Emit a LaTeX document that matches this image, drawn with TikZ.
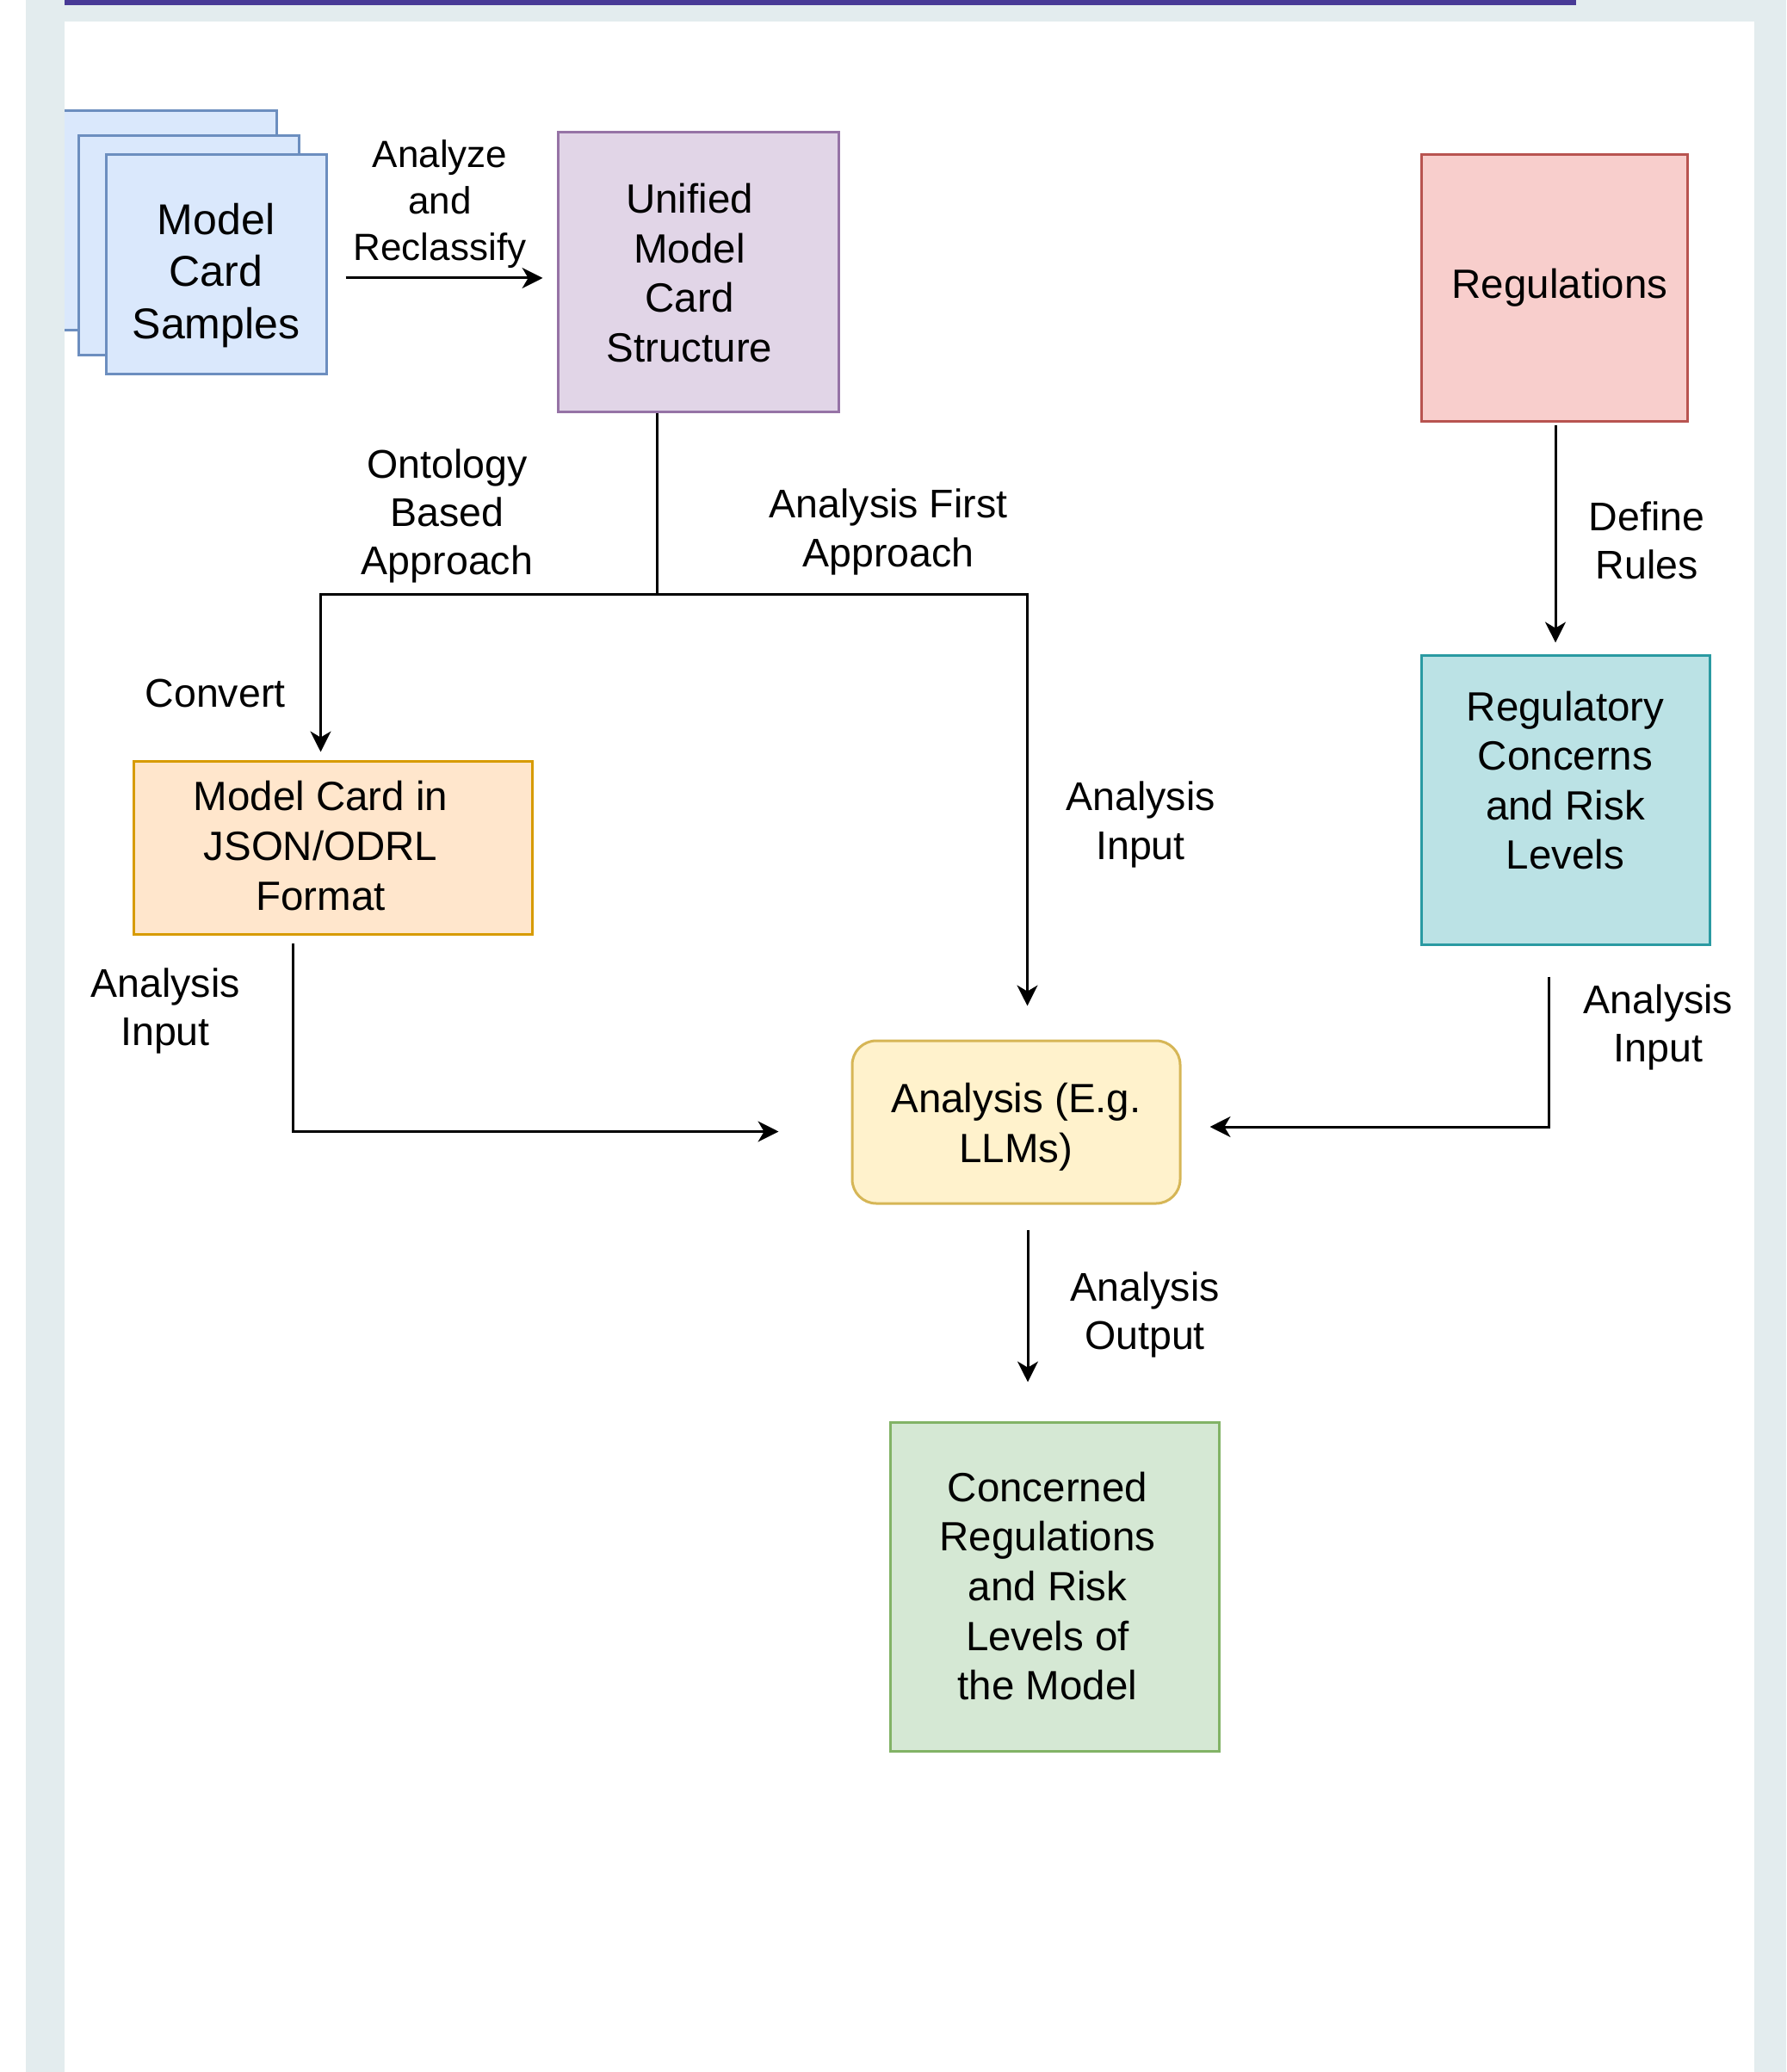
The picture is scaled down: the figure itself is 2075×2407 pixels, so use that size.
\documentclass[tikz,border=0pt]{standalone}
\usepackage{fontspec}
\setmainfont{Liberation Sans}
\usetikzlibrary{arrows.meta,calc}
\newdimen\pxu \pxu=0.01cm
\definecolor{bggray}{HTML}{E3ECEE}
\definecolor{barcol}{HTML}{483A96}
\definecolor{cardfill}{HTML}{DAE8FC}
\definecolor{cardline}{HTML}{6C8EBF}
\definecolor{purfill}{HTML}{E1D5E7}
\definecolor{purline}{HTML}{9673A6}
\definecolor{redfill}{HTML}{F8CECC}
\definecolor{redline}{HTML}{B85450}
\definecolor{orfill}{HTML}{FFE6CC}
\definecolor{orline}{HTML}{D79B00}
\definecolor{yelfill}{HTML}{FFF2CC}
\definecolor{yelline}{HTML}{D6B656}
\definecolor{grfill}{HTML}{D5E8D4}
\definecolor{grline}{HTML}{82B366}
\definecolor{tealfill}{HTML}{BBE2E5}
\definecolor{tealline}{HTML}{2A9AA2}
\newcommand\nodefont{\fontsize{13.5pt}{16.36pt}\selectfont}
\newcommand\samplefont{\fontsize{14.23pt}{17.07pt}\selectfont}
\newcommand\lblfont{\fontsize{13.23pt}{15.93pt}\selectfont}
\newcommand\smalllbl{\fontsize{12.52pt}{15.22pt}\selectfont}
\newcommand\padR[1]{\rule{#1\pxu}{0pt}}
\newcommand\hiA[1]{\rule{0pt}{#1\pxu}}
\newcommand\loA[1]{\rule[-#1\pxu]{0pt}{#1\pxu}}
\begin{document}
\begin{tikzpicture}[x=0.01cm, y=-0.01cm,
  box/.style={draw, line width=3\pxu, inner sep=0pt, align=center, font=\nodefont},
  lbl/.style={inner sep=0pt, align=center, font=\lblfont},
  conn/.style={line width=3\pxu, black},
  arr/.style={conn, -{Stealth[length=6.8pt, width=6.8pt, inset=2pt]}},
  card/.style={box, fill=cardfill, draw=cardline, minimum width=256\pxu, minimum height=255\pxu}
]
\useasboundingbox (0,0) rectangle (2075,2407);
\fill[white] (0,0) rectangle (2075,2407);
\fill[bggray] (30,0) rectangle (2075,2407);
\fill[white] (75,25) rectangle (2038,2407);
\fill[barcol] (75,0) rectangle (1831,6);

% stacked cards
\begin{scope}
  \clip (75,25) rectangle (2038,2407);
  \node[card] (card3) at (193,256.5) {};
\end{scope}
\node[card] (card2) at (219,285.5) {};
\node[card, font=\samplefont] (samples) at (251,307.5) {\hiA{69}Model\\Card\\Samples\strut};

% boxes
\node[box, fill=purfill, draw=purline, minimum width=326\pxu, minimum height=325\pxu] (unified) at (811,316.5)
  {\hiA{52.25}Unified\padR{20}\\Model\padR{20}\\Card\padR{20}\\Structure\padR{20}\strut};
\node[box, fill=redfill, draw=redline, minimum width=309\pxu, minimum height=310\pxu] (regs) at (1805.5,335)
  {\rule{13\pxu}{0pt}\strut Regulations\strut};
\node[box, fill=tealfill, draw=tealline, minimum width=335\pxu, minimum height=336\pxu] (regtory) at (1818.5,929)
  {\strut Regulatory\\Concerns\\and Risk\\Levels\loA{51.25}};
\node[box, fill=orfill, draw=orline, minimum width=463\pxu, minimum height=201\pxu] (json) at (386.5,984.5)
  {\hiA{47.25}Model Card in\padR{28}\\JSON/ODRL\padR{28}\\Format\padR{28}\strut};
\node[box, fill=yelfill, draw=yelline, rounded corners=28\pxu, minimum width=381\pxu, minimum height=189\pxu] (analysis) at (1180.5,1303.5)
  {\hiA{53.25}Analysis (E.g.\\LLMs)\strut};
\node[box, fill=grfill, draw=grline, minimum width=382\pxu, minimum height=382\pxu] (concerned) at (1225,1843)
  {\hiA{50.25}Concerned\padR{16}\\Regulations\padR{16}\\and Risk\padR{16}\\Levels of\padR{16}\\the Model\padR{16}\strut};

% connectors
\coordinate (s1) at ([yshift=-15.5\pxu]samples.east);
\draw[arr, shorten <=21\pxu, shorten >=16\pxu] (s1) -- (s1 -| unified.west);

\coordinate (junc) at (763,691);
\draw[conn] (unified.south -| junc) -- (junc);
\coordinate (jt) at ([xshift=-14\pxu]json.north);
\coordinate (at) at ([xshift=13\pxu]analysis.north);
\draw[arr, shorten >=9\pxu] (junc) -| (jt);
\draw[arr, shorten >=39\pxu] (junc) -| (at);

\coordinate (j1) at ([xshift=-46.5\pxu]json.south);
\coordinate (a1) at ([yshift=-11\pxu]analysis.west);
\draw[arr, shorten <=9\pxu, shorten >=84\pxu] (j1) |- (a1);

\coordinate (r1) at ([xshift=-19.5\pxu]regtory.south);
\coordinate (a2) at ([yshift=-5.5\pxu]analysis.east);
\draw[arr, shorten <=36\pxu, shorten >=33\pxu] (r1) |- (a2);

\coordinate (g1) at ([xshift=1.5\pxu]regs.south);
\draw[arr, shorten <=3\pxu, shorten >=13\pxu] (g1) -- (g1 |- regtory.north);

\coordinate (a3) at ([xshift=13.5\pxu]analysis.south);
\draw[arr, shorten <=29\pxu, shorten >=45\pxu] (a3) -- (a3 |- concerned.north);

% labels
\node[lbl, font=\smalllbl] (lAnalyze) at (511,237.8) {\strut Analyze\\and\\Reclassify\strut};
\node[lbl] (lOnto) at (519.5,600.3) {\strut Ontology\\Based\\Approach\strut};
\node[lbl] (lFirst) at (1032,618.8) {\strut Analysis First\\Approach\strut};
\node[lbl] (lConvert) at (250,809.8) {\strut Convert\strut};
\node[lbl] (lInL) at (192,1175.3) {\strut Analysis\\Input\strut};
\node[lbl] (lInM) at (1325,958.8) {\strut Analysis\\Input\strut};
\node[lbl] (lInR) at (1926.5,1194.3) {\strut Analysis\\Input\strut};
\node[lbl] (lDefine) at (1913,633.3) {\strut Define\\Rules\strut};
\node[lbl] (lOut) at (1330,1528.5) {\strut Analysis\\Output\strut};
\end{tikzpicture}
\end{document}
